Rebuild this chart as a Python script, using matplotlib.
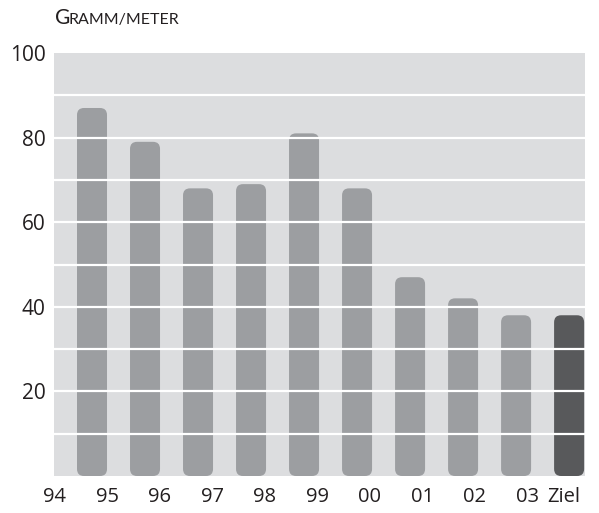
import matplotlib.pyplot as plt
from matplotlib.patches import FancyBboxPatch

# Values
years = ["95", "96", "97", "98", "99", "00", "01", "02", "03", "Ziel"]
values = [87, 79, 68, 69, 81, 68, 47, 42, 38, 38]
tick_labels = ["94", "95", "96", "97", "98", "99", "00", "01", "02", "03", "Ziel"]
y_ticks = [20, 40, 60, 80, 100]

BG = "#dcdddf"
BAR = "#9c9ea1"
GOAL = "#58595b"
TEXT = "#231f20"

plt.rcParams["font.family"] = ["Open Sans", "DejaVu Sans"]

fig = plt.figure(figsize=(5.99, 5.13), dpi=100)
ax = fig.add_axes([54 / 599, 1 - 476 / 513, 531 / 599, 423 / 513])
ax.set_facecolor(BG)

x_min, x_max = 0.283, 10.30
ax.set_xlim(x_min, x_max)
ax.set_ylim(0, 100)

# rounded bars: correct the corner shape for the axes aspect
px_x = 531 / (x_max - x_min)
px_y = 423 / 100
width = 30 / px_x
radius = 7 / px_x
for i, (name, v) in enumerate(zip(years, values)):
    pos = i + 1
    color = GOAL if name == "Ziel" else BAR
    patch = FancyBboxPatch((pos - width / 2, 0), width, v,
                           boxstyle=f"round,pad=0,rounding_size={radius}",
                           mutation_aspect=px_x / px_y,
                           facecolor=color, edgecolor="none", zorder=2)
    ax.add_patch(patch)

# white grid lines on top of the bars
for y in range(10, 100, 10):
    ax.axhline(y, color="white", lw=1.6, zorder=3)

# year labels sit between the bars, "Ziel" under its bar
label_pos = [0.30 + k * 0.99 for k in range(10)] + [9.89]
ax.set_xticks(label_pos)
ax.set_xticklabels(tick_labels, fontsize=14.5, color=TEXT)
ax.set_yticks(y_ticks)
ax.set_yticklabels([str(t) for t in y_ticks], fontsize=15, color=TEXT)
ax.tick_params(length=0)
ax.tick_params(axis="x", pad=8)
ax.tick_params(axis="y", pad=6)
for s in ax.spines.values():
    s.set_visible(False)

# title in small caps
fig.text(55 / 599, 1 - 24 / 513, "G", fontsize=15, color=TEXT,
         family=["Lato", "DejaVu Sans"], va="baseline")
fig.text(69 / 599, 1 - 24 / 513, "RAMM/METER", fontsize=11.5, color=TEXT,
         family=["Lato", "DejaVu Sans"], va="baseline")

fig.savefig("out.png", dpi=100)
